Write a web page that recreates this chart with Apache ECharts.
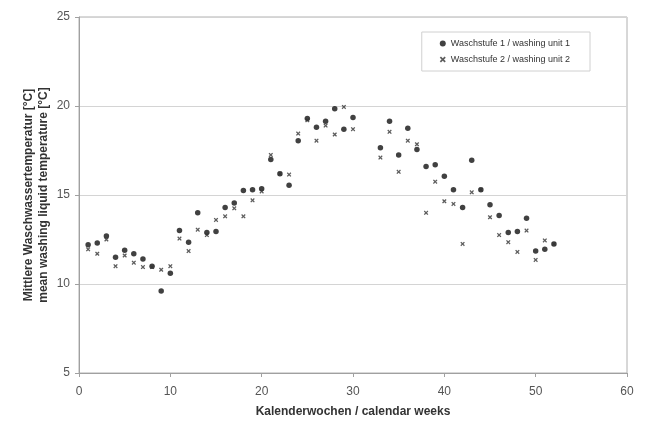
<!DOCTYPE html>
<html>
<head>
<meta charset="utf-8">
<script src="https://cdn.jsdelivr.net/npm/echarts@6/dist/echarts.min.js"></script>
<style>
  html, body { margin: 0; padding: 0; background: #fff; }
  #chart { width: 651px; height: 423px; }
</style>
</head>
<body>
<div id="chart"></div>
<script>
// Kalenderwochen (Wochen 31 und 32 fehlen)
var weeks = [1, 2, 3, 4, 5, 6, 7, 8, 9, 10, 11, 12, 13, 14, 15, 16, 17, 18, 19, 20,
  21, 22, 23, 24, 25, 26, 27, 28, 29, 30, 33, 34, 35, 36, 37, 38, 39, 40, 41, 42,
  43, 44, 45, 46, 47, 48, 49, 50, 51, 52]
// Waschstufe 1
var unit1 = [12.2, 12.3, 12.7, 11.5, 11.9, 11.7, 11.4, 11.0, 9.6, 10.6, 13.0, 12.35, 14.0, 12.9, 12.95, 14.3, 14.55, 15.25, 15.3, 15.35,
  17.0, 16.2, 15.55, 18.05, 19.3, 18.8, 19.15, 19.85, 18.7, 19.35, 17.65, 19.15, 17.25, 18.75, 17.55, 16.6, 16.7, 16.05, 15.3, 14.3,
  16.95, 15.3, 14.45, 13.85, 12.9, 12.95, 13.7, 11.85, 11.95, 12.25]
// Waschstufe 2
var unit2 = [11.95, 11.7, 12.5, 11.0, 11.6, 11.2, 10.95, 10.95, 10.8, 11.0, 12.55, 11.85, 13.05, 12.75, 13.6, 13.8, 14.25, 13.8, 14.7, 15.2,
  17.25, 16.2, 16.15, 18.45, 19.2, 18.05, 18.9, 18.4, 19.95, 18.7, 17.1, 18.55, 16.3, 18.05, 17.85, 14.0, 15.75, 14.65, 14.5, 12.25,
  15.15, 15.3, 13.75, 12.75, 12.35, 11.8, 13.0, 11.35, 12.45, 12.25]
var seriesNames = ['Waschstufe 1 / washing unit 1', 'Waschstufe 2 / washing unit 2']

function pairs (ys) {
  return weeks.map(function (w, i) { return [w, ys[i]] })
}

// kleines Kreuz als gefuellter Pfad
var crossPath = 'path://M0,2L2,0L5,3L8,0L10,2L7,5L10,8L8,10L5,7L2,10L0,8L3,5Z'

var myChart = echarts.init(document.getElementById('chart'))
myChart.setOption({
  backgroundColor: '#fff',
  animation: false,
  textStyle: { fontFamily: 'Liberation Sans, Arial, sans-serif' },
  grid: {
    left: 79,
    right: 24,
    top: 17,
    bottom: 49,
    show: true,
    borderColor: '#b0b0b0',
    borderWidth: 1
  },
  legend: {
    orient: 'vertical',
    right: 61,
    top: 32,
    padding: [7, 20, 7, 18],
    itemGap: 7,
    itemWidth: 6,
    itemHeight: 6,
    borderColor: '#d0d0d0',
    borderWidth: 1,
    textStyle: { fontSize: 9, color: '#333' },
    data: [
      { name: seriesNames[0], icon: 'circle' },
      { name: seriesNames[1], icon: crossPath }
    ]
  },
  xAxis: {
    type: 'value',
    min: 0,
    max: 60,
    interval: 10,
    name: 'Kalenderwochen / calendar weeks',
    nameLocation: 'middle',
    nameGap: 33,
    nameMoveOverlap: false,
    nameTextStyle: { fontSize: 12, fontWeight: 'bold', color: '#333' },
    axisLine: { show: true, lineStyle: { color: '#a0a0a0' } },
    axisTick: { show: true, length: 4, lineStyle: { color: '#a0a0a0' } },
    axisLabel: { fontSize: 12, color: '#555', margin: 13 },
    splitLine: { show: false }
  },
  yAxis: {
    type: 'value',
    min: 5,
    max: 25,
    interval: 5,
    name: 'Mittlere Waschwassertemperatur [°C]\nmean washing liquid temperature [°C]',
    nameLocation: 'middle',
    nameGap: 28,
    nameMoveOverlap: false,
    nameTextStyle: { fontSize: 12, fontWeight: 'bold', color: '#333', lineHeight: 15 },
    axisLine: { show: true, lineStyle: { color: '#a0a0a0' } },
    axisTick: { show: true, length: 4, lineStyle: { color: '#a0a0a0' } },
    axisLabel: { fontSize: 12, color: '#555', margin: 9 },
    splitLine: { show: true, lineStyle: { color: '#d4d4d4', width: 1 } }
  },
  series: [
    {
      name: seriesNames[0],
      type: 'scatter',
      symbol: 'circle',
      symbolSize: 5.5,
      itemStyle: { color: '#111' },
      data: pairs(unit1)
    },
    {
      name: seriesNames[1],
      type: 'scatter',
      symbol: crossPath,
      symbolSize: 4.5,
      itemStyle: { color: '#333' },
      data: pairs(unit2)
    }
  ]
})
</script>
</body>
</html>
